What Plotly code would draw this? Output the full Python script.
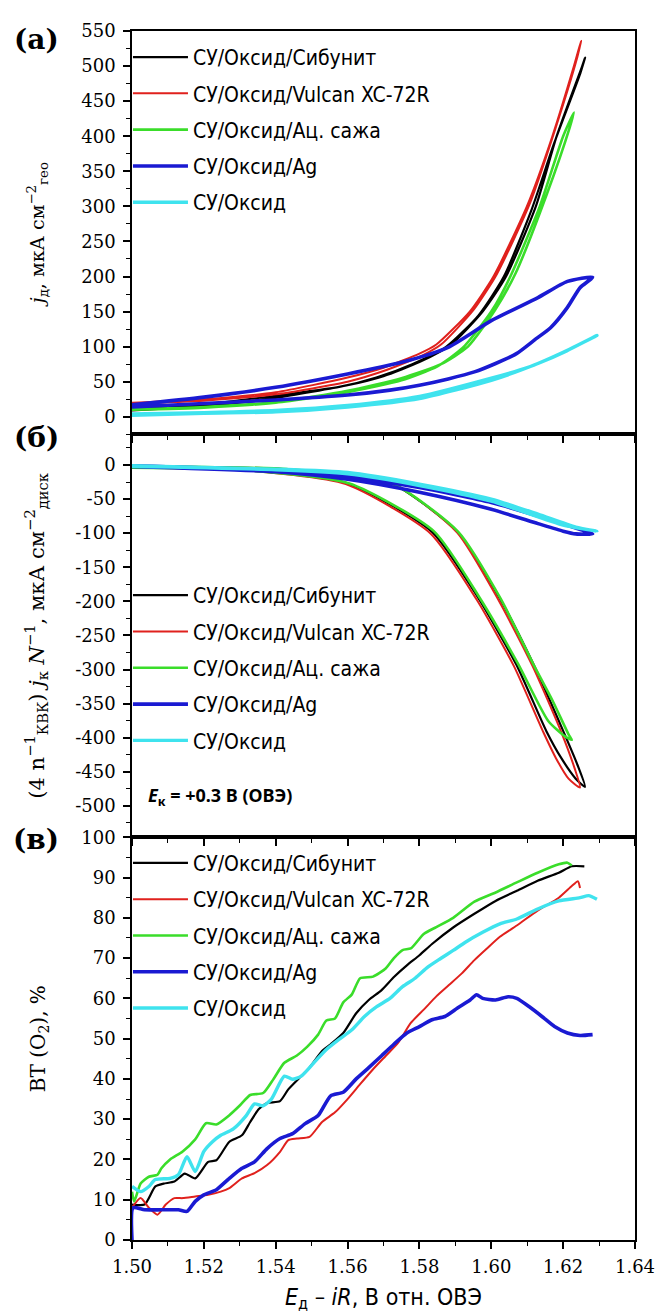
import plotly.graph_objects as go

# ---------------- legend / styling ----------------
names = ["СУ/Оксид/Сибунит", "СУ/Оксид/Vulcan XC-72R", "СУ/Оксид/Ац. сажа",
         "СУ/Оксид/Ag", "СУ/Оксид"]
colors = ["#000000", "#e0211d", "#3add2a", "#1a1ad2", "#3fe3ee"]
widths = [2.2, 2.0, 2.6, 3.6, 3.4]

# ---------------- panel (а): j_д vs E (loops: up branch then back branch) ----------------
a_sib_E = [1.500, 1.520, 1.540, 1.560, 1.570, 1.580, 1.5888, 1.5976, 1.6041, 1.6124, 1.6182, 1.6253, 1.6261,
           1.6248, 1.6175, 1.6112, 1.6035, 1.5965, 1.5875, 1.578, 1.568, 1.558, 1.540, 1.520, 1.500]
a_sib_j = [9, 15, 27, 45, 58, 78, 103, 150, 200, 300, 400, 500, 512,
           490, 390, 295, 200, 145, 100, 75, 56, 43, 30, 18, 12]
a_vul_E = [1.500, 1.520, 1.540, 1.560, 1.570, 1.580, 1.5847, 1.594, 1.6006, 1.6099, 1.617, 1.623, 1.625,
           1.6238, 1.6178, 1.6108, 1.6015, 1.595, 1.586, 1.581, 1.571, 1.560, 1.540, 1.520, 1.500]
a_vul_j = [20, 25, 35, 56, 70, 90, 103, 150, 200, 300, 400, 500, 536,
           510, 410, 305, 203, 152, 103, 88, 67, 50, 32, 23, 19]
a_ac_E = [1.500, 1.520, 1.540, 1.560, 1.575, 1.585, 1.592, 1.600, 1.6053, 1.6135, 1.620, 1.623,
          1.6218, 1.6155, 1.6068, 1.601, 1.5935, 1.586, 1.575, 1.560, 1.540, 1.520, 1.500]
a_ac_j = [10, 13, 20, 35, 52, 72, 98, 150, 200, 300, 400, 434,
          412, 318, 205, 152, 100, 75, 55, 37, 21, 14, 11]
a_ag_E = [1.500, 1.520, 1.540, 1.560, 1.5753, 1.588, 1.600, 1.613, 1.6212, 1.6282,
          1.6247, 1.6212, 1.6165, 1.6124, 1.607, 1.6012, 1.5953, 1.588, 1.580, 1.5718, 1.560, 1.540, 1.520, 1.500]
a_ag_j = [17, 28, 42, 61, 78, 99, 137, 170, 193, 199,
          184, 156, 127, 111, 90, 76, 64, 54, 45, 38, 31, 24, 19, 14]
a_ox_E = [1.500, 1.520, 1.540, 1.560, 1.580, 1.600, 1.613, 1.621, 1.6294,
          1.620, 1.610, 1.600, 1.580, 1.560, 1.540, 1.520, 1.500]
a_ox_j = [2, 5, 7, 14, 26, 52, 76, 94, 116,
          92, 70, 55, 29, 16, 9, 6, 4]

# ---------------- panel (б): (4/n) j_к / N vs E ----------------
b_sib_E = [1.500, 1.530, 1.560, 1.5835, 1.5965, 1.607, 1.6153, 1.6195, 1.6235, 1.6261,
           1.624, 1.620, 1.6118, 1.6024, 1.5906, 1.5718, 1.542, 1.520, 1.500]
b_sib_j = [-3, -6, -27, -98, -196, -293, -390, -430, -460, -472,
           -440, -390, -293, -196, -98, -26, -6, -3, -2]
b_vul_E = [1.500, 1.530, 1.5595, 1.583, 1.596, 1.6063, 1.6145, 1.618, 1.6215, 1.6247,
           1.6232, 1.6195, 1.6115, 1.602, 1.5905, 1.5725, 1.545, 1.520, 1.500]
b_vul_j = [-4, -7, -28, -100, -198, -295, -392, -430, -460, -473,
           -445, -392, -295, -198, -99, -27, -7, -4, -3]
b_ac_E = [1.500, 1.530, 1.5605, 1.584, 1.5968, 1.6075, 1.6158, 1.6205, 1.6224,
          1.6215, 1.617, 1.6118, 1.6026, 1.5908, 1.572, 1.543, 1.520, 1.500]
b_ac_j = [-4, -7, -27, -97, -195, -292, -375, -398, -403,
          -395, -345, -293, -196, -98, -26, -6, -3, -2]
b_ag_E = [1.500, 1.540, 1.560, 1.580, 1.600, 1.613, 1.620, 1.6235, 1.6282,
          1.625, 1.615, 1.600, 1.580, 1.560, 1.540, 1.500]
b_ag_j = [-2, -10, -21, -40, -65, -86, -97, -101, -101,
          -95, -78, -55, -33, -17, -8, -1]
b_ox_E = [1.500, 1.540, 1.560, 1.580, 1.600, 1.613, 1.6235, 1.6294,
          1.620, 1.600, 1.580, 1.560, 1.540, 1.500]
b_ox_j = [-1, -6, -11, -28, -50, -72, -91, -97,
          -88, -53, -30, -13, -7, -2]

# ---------------- panel (в): ВТ(O2) vs E ----------------
c_sib_E = [1.5000, 1.5035, 1.5065, 1.5088, 1.5118, 1.5147, 1.5176, 1.5212, 1.5235, 1.5271, 1.5306, 1.5329,
           1.5353, 1.5376, 1.5412, 1.5435, 1.5471, 1.5494, 1.5529, 1.5553, 1.5588, 1.5624, 1.5659, 1.5694,
           1.5729, 1.5765, 1.5800, 1.5835, 1.5894, 1.5953, 1.6012, 1.6071, 1.6129, 1.6188, 1.6224, 1.6259]
c_sib_v = [8.8, 8.8, 13.3, 14, 14.5, 16.5, 15.3, 19.4, 19.8, 24.4, 26, 29.3,
           32.5, 34, 34.5, 37.4, 40.7, 42.8, 46.9, 48.6, 51.4, 56.3, 59.6, 62,
           65.3, 68.2, 70.7, 73.5, 77.6, 81, 84.2, 86.7, 89.2, 91.2, 92.8, 92.8]
c_vul_E = [1.5000, 1.5024, 1.5047, 1.5071, 1.5094, 1.5118, 1.5141, 1.5176, 1.5212, 1.5247, 1.5271, 1.5306,
           1.5341, 1.5376, 1.5412, 1.5435, 1.5459, 1.5494, 1.5529, 1.5565, 1.5600, 1.5635, 1.5671, 1.5706,
           1.5741, 1.5776, 1.5812, 1.5847, 1.5882, 1.5918, 1.5953, 1.5988, 1.6024, 1.6071, 1.6129, 1.6188,
           1.6224, 1.6241, 1.6247]
c_vul_v = [8, 10.4, 8, 6.3, 8.8, 10.4, 10.4, 10.8, 11.2, 12, 12.9, 15.3,
           16.6, 18.6, 21.9, 24.8, 25.2, 25.6, 29.3, 31.7, 35, 38.7, 42.4, 45.7,
           49, 53.9, 57.2, 60.5, 63.3, 66.2, 69.5, 72.4, 75.3, 78.1, 81.8, 85,
           87.9, 89.1, 87.4]
c_ac_E = [1.5000, 1.5006, 1.5024, 1.5047, 1.5071, 1.5082, 1.5106, 1.5141, 1.5176, 1.5206, 1.5235, 1.5271,
          1.5300, 1.5329, 1.5365, 1.5394, 1.5424, 1.5459, 1.5488, 1.5518, 1.5541, 1.5565, 1.5588, 1.5612,
          1.5635, 1.5671, 1.5706, 1.5729, 1.5753, 1.5776, 1.5812, 1.5847, 1.5894, 1.5953, 1.6012, 1.6071,
          1.6129, 1.6188, 1.6212, 1.6224]
c_ac_v = [12, 9.6, 14, 15.7, 16.2, 17.8, 20, 22, 25, 29, 28.7, 31,
          33.4, 36, 36.5, 40, 44, 45.8, 48, 51, 54.5, 55, 59, 61,
          65, 65.4, 67.4, 70, 72, 72.4, 76, 77.7, 80, 84, 86.3, 88.8,
          91.2, 93.3, 93.7, 93]
c_ag_E = [1.5000, 1.5003, 1.5035, 1.5082, 1.5129, 1.5153, 1.5176, 1.5200, 1.5235, 1.5271, 1.5306, 1.5341,
          1.5376, 1.5412, 1.5447, 1.5482, 1.5518, 1.5553, 1.5588, 1.5624, 1.5659, 1.5694, 1.5729, 1.5765,
          1.5800, 1.5835, 1.5871, 1.5906, 1.5941, 1.5959, 1.5976, 1.6012, 1.6047, 1.6071, 1.6106, 1.6141,
          1.6176, 1.6212, 1.6247, 1.6282]
c_ag_v = [0, 8, 7.5, 7.5, 7.5, 7.1, 9.6, 11.2, 12.5, 15.3, 17.8, 19.4,
          22.7, 25.2, 26.4, 28.9, 30.9, 35.8, 36.7, 40, 42.8, 45.7, 48.6, 51.4,
          53, 54.7, 55.5, 57.6, 59.6, 60.9, 60, 59.6, 60.4, 60, 57.9, 55.5,
          53, 51.4, 50.8, 51]
c_ox_E = [1.5000, 1.5024, 1.5047, 1.5065, 1.5106, 1.5129, 1.5153, 1.5176, 1.5200, 1.5224, 1.5247, 1.5282,
          1.5318, 1.5341, 1.5365, 1.5388, 1.5424, 1.5447, 1.5471, 1.5506, 1.5541, 1.5576, 1.5612, 1.5647,
          1.5682, 1.5718, 1.5753, 1.5788, 1.5824, 1.5859, 1.5894, 1.5929, 1.5976, 1.6024, 1.6071, 1.6129,
          1.6188, 1.6247, 1.6271, 1.6294]
c_ox_v = [13.3, 12, 13.3, 15, 15.3, 16.2, 20.7, 17, 22, 24.4, 26, 27.6,
          30.9, 33.8, 33.3, 35, 40.7, 39.9, 40.7, 44, 47.3, 49.8, 52.2, 55.5,
          58, 60, 62.9, 65, 67.8, 69.9, 71.9, 74, 76.4, 78.5, 79.7, 82.2,
          84.2, 85, 85.5, 84.6]

# tick labels
b_tickvals = [0, -50, -100, -150, -200, -250, -300, -350, -400, -450, -500]
b_ticktext = ["0", "-50", "-100", "-150", "-200", "-250", "-300", "-350", "-400", "-450", "-500"]

panels = [
    ("x", "y", "legend", [(a_sib_E, a_sib_j), (a_vul_E, a_vul_j), (a_ac_E, a_ac_j), (a_ag_E, a_ag_j), (a_ox_E, a_ox_j)]),
    ("x2", "y2", "legend2", [(b_sib_E, b_sib_j), (b_vul_E, b_vul_j), (b_ac_E, b_ac_j), (b_ag_E, b_ag_j), (b_ox_E, b_ox_j)]),
    ("x3", "y3", "legend3", [(c_sib_E, c_sib_v), (c_vul_E, c_vul_v), (c_ac_E, c_ac_v), (c_ag_E, c_ag_v), (c_ox_E, c_ox_v)]),
]

fig = go.Figure()
for pi, (xa, ya, lg, series) in enumerate(panels):
    for i, (ex, vy) in enumerate(series):
        fig.add_trace(go.Scatter(
            x=ex, y=vy, mode="lines", name=names[i], xaxis=xa, yaxis=ya,
            legend=lg, legendgroup=f"p{pi}s{i}",
            line=dict(color=colors[i], width=widths[i], shape="spline", smoothing=0.6),
        ))

TICKFONT = dict(family="DejaVu Serif", size=18, color="black")
TITLEFONT = dict(family="DejaVu Serif", size=20, color="black")
LEGFONT = dict(family="Liberation Sans Narrow, DejaVu Sans Condensed, Roboto, Noto Sans", size=21, color="black")

dom_c = [0.0, 0.3331]
dom_b = [0.3331, 0.6664]
dom_a = [0.6664, 1.0]

def xax(**kw):
    d = dict(range=[1.5, 1.64], tick0=1.5, dtick=0.02, ticks="outside", ticklen=7, tickwidth=1.5,
             tickcolor="black", showline=True, linecolor="black", linewidth=1.6, mirror=True,
             showgrid=False, zeroline=False, tickfont=TICKFONT, tickformat=".2f", ticklabelstandoff=3,
             minor=dict(dtick=0.01, tick0=1.5, ticks="outside", ticklen=4, tickwidth=1.3, tickcolor="black"))
    d.update(kw)
    return d

def yax(rng, dt, mdt, dom, **kw):
    d = dict(range=rng, domain=dom, tick0=0, dtick=dt, ticks="outside", ticklen=7, tickwidth=1.5,
             tickcolor="black", showline=True, linecolor="black", linewidth=1.6, mirror=True,
             showgrid=False, zeroline=False, tickfont=TICKFONT, title_font=TITLEFONT,
             ticklabelstandoff=4,
             minor=dict(dtick=mdt, tick0=0, ticks="outside", ticklen=4, tickwidth=1.3, tickcolor="black"))
    d.update(kw)
    return d

def overlay_y(base, anchor, rng, dt, mdt):
    return dict(overlaying=base, anchor=anchor, side="right", range=rng, tick0=0, dtick=dt,
                ticks="inside", ticklen=7, tickwidth=1.5, tickcolor="black", showticklabels=False,
                showline=False, showgrid=False, zeroline=False,
                minor=dict(dtick=mdt, tick0=0, ticks="inside", ticklen=4, tickwidth=1.3, tickcolor="black"))

fig.update_layout(
    width=663, height=1311,
    margin=dict(l=124, r=36, t=15, b=79),
    paper_bgcolor="white", plot_bgcolor="white",
    xaxis=xax(anchor="y", showticklabels=False),
    xaxis2=xax(anchor="y2", showticklabels=False, matches="x"),
    xaxis3=xax(anchor="y3", matches="x",
               title=dict(text="<i>E</i><sub>д</sub> – <i>iR</i>, В отн. ОВЭ",
                          font=dict(family="Liberation Sans Narrow, DejaVu Sans Condensed, Noto Sans", size=23, color="black"),
                          standoff=12)),
    xaxis4=dict(overlaying="x", anchor="y", side="top", range=[1.5, 1.64], tick0=1.5, dtick=0.02,
                ticks="inside", ticklen=7, tickwidth=1.5, tickcolor="black", showticklabels=False,
                showline=False, showgrid=False, zeroline=False,
                minor=dict(dtick=0.01, tick0=1.5, ticks="inside", ticklen=4, tickwidth=1.3, tickcolor="black")),
    yaxis=yax([-25, 550], 50, 25, dom_a, anchor="x",
              title=dict(text="<i>j</i><sub>д</sub>, мкА см<sup>−2</sup><sub>гео</sub>", standoff=32,
                         font=dict(family="DejaVu Serif", size=19, color="black"))),
    yaxis2=yax([-546, 45], 50, 25, dom_b, anchor="x2", tickmode="array",
               tickvals=b_tickvals, ticktext=b_ticktext,
               title=dict(text="(4 n<sup>−1</sup><sub>КВК</sub>) <i>j</i><sub>к</sub> <i>N</i><sup>−1</sup>, мкА см<sup>−2</sup><sub>диск</sub>",
                          standoff=25, font=dict(family="DejaVu Serif", size=21, color="black"))),
    yaxis3=yax([0, 100], 10, 5, dom_c, anchor="x3",
               title=dict(text="ВТ (O<sub>2</sub>), %", standoff=30)),
    yaxis4=overlay_y("y", "x", [-25, 550], 50, 25),
    yaxis5=overlay_y("y2", "x2", [-546, 45], 50, 25),
    yaxis6=overlay_y("y3", "x3", [0, 100], 10, 5),
    showlegend=True,
)

leg_common = dict(xanchor="left", yanchor="top", bgcolor="rgba(0,0,0,0)", font=LEGFONT,
                  itemwidth=55, tracegroupgap=6, traceorder="grouped")
fig.update_layout(
    legend=dict(x=-0.008, y=0.9951, **leg_common),
    legend2=dict(x=-0.008, y=0.5500, **leg_common),
    legend3=dict(x=-0.008, y=0.3286, **leg_common),
)

panel_font = dict(family="DejaVu Serif", size=28, color="black")
for txt, yy in [("<b>(а)</b>", 0.993), ("<b>(б)</b>", 0.664), ("<b>(в)</b>", 0.331)]:
    fig.add_annotation(text=txt, xref="paper", yref="paper", x=-0.19, y=yy,
                       showarrow=False, font=panel_font, xanchor="center", yanchor="middle")

fig.add_annotation(text="<b><i>E</i><sub>к</sub> = +0.3 В (ОВЭ)</b>", xref="paper", yref="paper",
                   x=0.028, y=0.367, xanchor="left", yanchor="middle", showarrow=False,
                   font=dict(family="Noto Sans", size=18, color="black"))

fig.write_html("out.html")
